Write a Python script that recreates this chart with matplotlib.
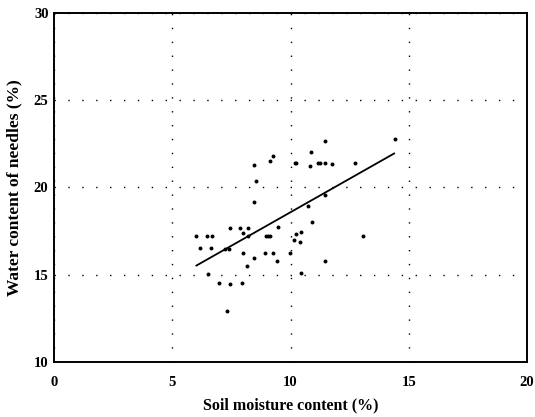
import matplotlib
matplotlib.use("Agg")
import matplotlib.pyplot as plt
import numpy as np

soil = [6.02, 6.16, 6.48, 6.67, 6.65, 6.51, 6.96, 7.44, 7.32, 7.21, 7.42, 7.45, 7.86,
        8.22, 7.98, 8.22, 8.01, 7.96, 8.17, 8.46, 8.45, 8.54, 8.45, 9.13, 9.24, 8.95,
        9.03, 9.15, 8.94, 9.27, 9.44, 9.47, 9.97, 10.14, 10.42, 10.22, 10.46, 10.91,
        10.43, 10.18, 10.22, 10.83, 10.88, 11.18, 11.23, 11.46, 11.47, 11.74, 12.72,
        14.40, 13.05, 11.46, 10.74, 11.46]
needle = [17.19, 16.55, 17.19, 17.19, 16.53, 15.04, 14.55, 14.44, 12.91, 16.49, 16.49,
          17.67, 17.67, 17.67, 17.38, 17.19, 16.22, 14.53, 15.50, 15.95, 19.17, 20.37,
          21.26, 21.49, 21.82, 17.23, 17.21, 17.19, 16.26, 16.26, 15.76, 17.73, 16.26,
          16.96, 16.90, 17.33, 17.42, 18.00, 15.10, 21.40, 21.40, 21.24, 22.05, 21.38,
          21.38, 21.38, 22.66, 21.36, 21.38, 22.75, 17.19, 15.79, 18.93, 19.55]
fit_slope = 0.768
fit_intercept = 10.90
fit_x = [6.02, 14.38]

x_ticks = [0, 5, 10, 15, 20]
y_ticks = [10, 15, 20, 25, 30]

fig = plt.figure(figsize=(5.35, 4.17), dpi=100)
ax = fig.add_axes([0.101, 0.132, 0.884, 0.837])

ax.scatter(soil, needle, s=8, color="black", zorder=3, linewidths=0)
fx = np.array(fit_x)
ax.plot(fx, fit_slope * fx + fit_intercept, color="black", lw=1.3, zorder=3)

ax.set_xlim(0, 20)
ax.set_ylim(10, 30)
ax.set_xticks(x_ticks)
ax.set_yticks(y_ticks)
ax.set_xticklabels([str(v) for v in x_ticks])
ax.set_yticklabels([str(v) for v in y_ticks])
ax.grid(True, color="black", linestyle=(0, (1, 9)), linewidth=1.0)
ax.tick_params(axis="x", length=0, pad=10, labelsize=10.5)
ax.tick_params(axis="y", length=0, pad=4, labelsize=10.5)
for lab in ax.get_xticklabels() + ax.get_yticklabels():
    lab.set_fontfamily("Liberation Serif")
    lab.set_fontweight("bold")
for sp in ax.spines.values():
    sp.set_linewidth(1.4)
    sp.set_color("black")

ax.set_xlabel("Soil moisture content (%)", fontfamily="Liberation Serif",
              fontweight="bold", fontsize=11.5, labelpad=6)
ax.set_ylabel("Water content of needles (%)", fontfamily="Liberation Serif",
              fontweight="bold", fontsize=12.5, labelpad=8)

fig.savefig("out.png", dpi=100)
